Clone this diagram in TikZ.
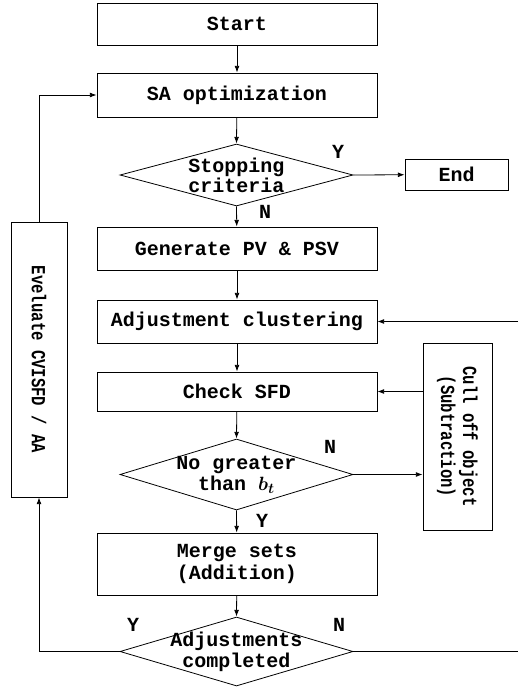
\documentclass[tikz,border=0pt]{standalone}
\usepackage{fontspec}
\setmainfont{Liberation Mono}
\usetikzlibrary{shapes.geometric,arrows.meta}
\begin{document}
\begin{tikzpicture}[x=0.75pt,y=-0.75pt,
  font=\fontsize{15}{16}\selectfont\bfseries,
  line width=0.6pt,
  box/.style={draw,rectangle,inner sep=0pt,minimum width=210pt,align=center},
  dia/.style={draw,diamond,inner sep=0pt,minimum width=174.75pt,aspect=3.5},
  dtxt/.style={align=center,inner sep=0pt},
  arr/.style={-{Latex[length=5pt,width=3.6pt]}},
  lab/.style={inner sep=0pt}]
\useasboundingbox (0,0) rectangle (518,689);

\node[box,minimum height=31.5pt] (start) at (237,24) {Start};
\node[box,minimum height=33pt] (sa) at (237,95) {SA optimization};
\node[dia,minimum height=46.5pt] (stop) at (236.5,175) {};
\node[dtxt,font=\fontsize{15}{15}\selectfont\bfseries] (stoptxt) at (stop.center) {Stopping\\criteria};
\node[box,minimum width=77.25pt,minimum height=23.25pt] (end) at (456.5,174.5) {End};
\node[box,minimum height=32.25pt] (gen) at (237,248.5) {Generate PV \& PSV};
\node[box,minimum height=32.25pt] (adjc) at (237,321.5) {Adjustment clustering};
\node[box,minimum height=29.25pt] (check) at (237,391.5) {Check SFD};
\node[dia,minimum height=53.25pt] (nog) at (236.5,474.5) {};
\node[dtxt] (nogtxt) at (nog.center) {No greater\\than {\boldmath$b_t$}};
\node[box,minimum width=51.75pt,minimum height=140.25pt] (cull) at (457.5,436.5) {};
\node[rotate=-90,align=center,inner sep=0pt,font=\fontsize{15}{16.5}\selectfont\bfseries] (culltxt) at (cull.center) {\scalebox{0.78}[1]{Cull off object}\\\scalebox{0.78}[1]{(Subtraction)}};
\node[box,minimum height=46.5pt,font=\fontsize{15}{16.5}\selectfont\bfseries] (merge) at (237,564) {Merge sets\\(Addition)};
\node[dia,minimum height=51.75pt] (adjd) at (236.5,651.5) {};
\node[dtxt] (adjdtxt) at (adjd.center) {Adjustments\\completed};
\node[box,minimum width=42pt,minimum height=206.25pt] (eval) at (39,359.5) {};
\node[rotate=-90,inner sep=0pt] (evaltxt) at (eval.center) {\scalebox{0.78}[1]{Eveluate CVISFD / AA}};

\coordinate (rin) at (518,321.5);
\coordinate (rout) at (518,651.5);

\draw[arr] (start) -- (sa);
\draw[arr] (sa) -- (stop.north);
\draw[arr] (stop.east) -- (end);
\draw[arr] (stop.south) -- (gen);
\draw[arr] (gen) -- (adjc);
\draw[arr] (adjc) -- (check);
\draw[arr] (check) -- (nog.north);
\draw[arr] (nog.east) -- (cull.west |- nog.east);
\draw[arr] (cull.west |- check.east) -- (check.east);
\draw[arr] (nog.south) -- (merge);
\draw[arr] (merge) -- (adjd.north);
\draw[arr] (adjd.west) -| (eval.south);
\draw[arr] (eval.north) |- (sa.west);
\draw (adjd.east) -- (rout);
\draw[arr] (rin) -- (adjc.east);

\node[lab] (ly1) at (338,152) {Y};
\node[lab] (ln1) at (265,212) {N};
\node[lab] (ln2) at (330,447) {N};
\node[lab] (ly2) at (262,521) {Y};
\node[lab] (ly3) at (133,625) {Y};
\node[lab] (ln3) at (339,625) {N};
\end{tikzpicture}
\end{document}
